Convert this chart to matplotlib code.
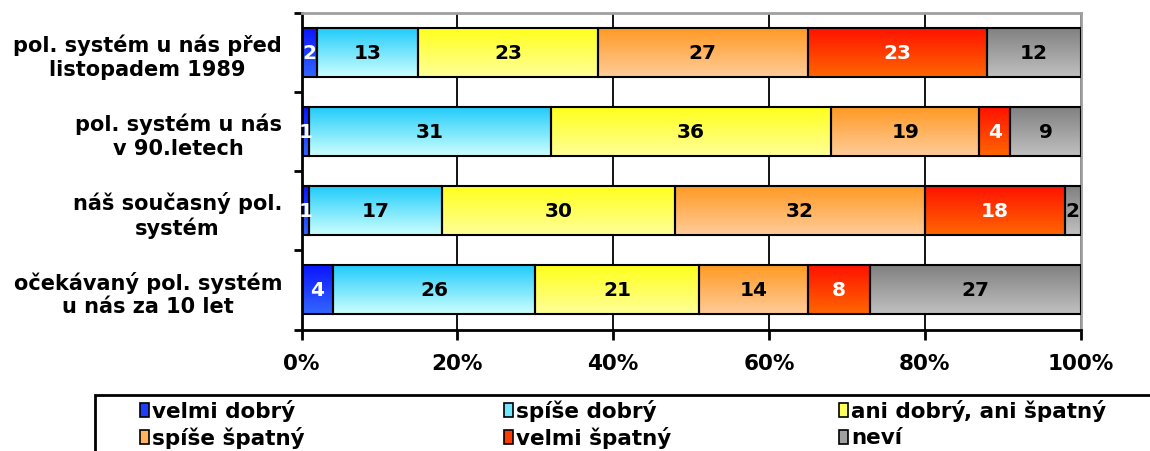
import numpy as np
import matplotlib.pyplot as plt
from matplotlib.colors import LinearSegmentedColormap, to_rgb
from matplotlib.patches import Rectangle

# data
categories = ['pol. systém u nás před\nlistopadem 1989',
              'pol. systém u nás\nv 90.letech',
              'náš současný pol.\nsystém',
              'očekávaný pol. systém\nu nás za 10 let']
series = ['velmi dobrý', 'spíše dobrý', 'ani dobrý, ani špatný',
          'spíše špatný', 'velmi špatný', 'neví']
velmi_dobry  = [2, 1, 1, 4]
spise_dobry  = [13, 31, 17, 26]
ani_ani      = [23, 36, 30, 21]
spise_spatny = [27, 19, 32, 14]
velmi_spatny = [23, 4, 18, 8]
nevi         = [12, 9, 2, 27]
values = [velmi_dobry, spise_dobry, ani_ani, spise_spatny, velmi_spatny, nevi]
xticks = [0, 20, 40, 60, 80, 100]
xtick_labels = ['0%', '20%', '40%', '60%', '80%', '100%']

# gradient colours (top -> bottom) and label colours
top_cols = ['#0a14ff', '#1ecbfa', '#ffff1a', '#ff9922', '#ff1100', '#808080']
bot_cols = ['#3366ff', '#ccffff', '#ffff99', '#ffcc99', '#ff6600', '#c0c0c0']
txt_cols = ['white', 'black', 'black', 'black', 'white', 'black']

W, H = 1150, 452
fx = lambda x: x / W
fy = lambda y: 1 - y / H

fig = plt.figure(figsize=(W / 100, H / 100), dpi=100)
ax = fig.add_axes([fx(301.5), fy(330.5), (1080.5 - 301.5) / W, (330.5 - 14) / H])

ypos = np.arange(len(categories))
left = np.zeros(len(categories))
grad = np.linspace(0, 1, 64).reshape(-1, 1)

for i, vals in enumerate(values):
    bars = ax.barh(ypos, vals, left=left, height=0.62, facecolor='none',
                   edgecolor='black', linewidth=1.5, zorder=3)
    cmap = LinearSegmentedColormap.from_list('g%d' % i, [top_cols[i], bot_cols[i]])
    for b, v in zip(bars, vals):
        x0, y0, w, h = b.get_x(), b.get_y(), b.get_width(), b.get_height()
        ax.imshow(grad, cmap=cmap, extent=(x0, x0 + w, y0 + h, y0),
                  aspect='auto', origin='upper', zorder=2, interpolation='bilinear')
        ax.text(x0 + w / 2, y0 + h / 2, str(v), ha='center', va='center',
                fontsize=14.5, fontweight='bold', color=txt_cols[i], zorder=4)
    left += np.array(vals)

ax.set_xlim(0, 100)
ax.set_ylim(3.5, -0.5)

# grid and spines
ax.set_axisbelow(True)
ax.xaxis.grid(True, color='black', linewidth=1.3)
for s in ['left', 'bottom']:
    ax.spines[s].set_color('black')
    ax.spines[s].set_linewidth(2)
for s in ['top', 'right']:
    ax.spines[s].set_color('#a0a0a0')
    ax.spines[s].set_linewidth(2)

ax.set_xticks(xticks)
ax.set_xticklabels(xtick_labels, fontsize=15.5, fontweight='bold')
ax.tick_params(axis='x', direction='out', length=7, width=2, pad=10)

ax.set_yticks(ypos)
ax.set_yticklabels(categories, fontsize=15, fontweight='bold', multialignment='center')
ax.set_yticks(np.arange(-0.5, 4, 1), minor=True)
ax.tick_params(axis='y', which='major', length=0, pad=14)
ax.tick_params(axis='y', which='minor', direction='out', length=6, width=2)

# legend box
fig.patches.append(Rectangle((fx(95), fy(470)), (1170 - 95) / W, (470 - 396) / H,
                             transform=fig.transFigure, facecolor='white',
                             edgecolor='black', linewidth=2, zorder=0))
col_x = [140, 504, 839]
row_y = [411, 438]
for i, name in enumerate(series):
    cx, cy = col_x[i % 3], row_y[i // 3]
    mid = tuple((np.array(to_rgb(top_cols[i])) + np.array(to_rgb(bot_cols[i]))) / 2)
    fig.patches.append(Rectangle((fx(cx), fy(cy + 7)), 9 / W, 14 / H,
                                 transform=fig.transFigure, facecolor=mid,
                                 edgecolor='black', linewidth=1.2, zorder=2))
    fig.text(fx(cx + 12), fy(cy), name, ha='left', va='center',
             fontsize=15.5, fontweight='bold', zorder=3)

fig.savefig('out.png', dpi=100)
